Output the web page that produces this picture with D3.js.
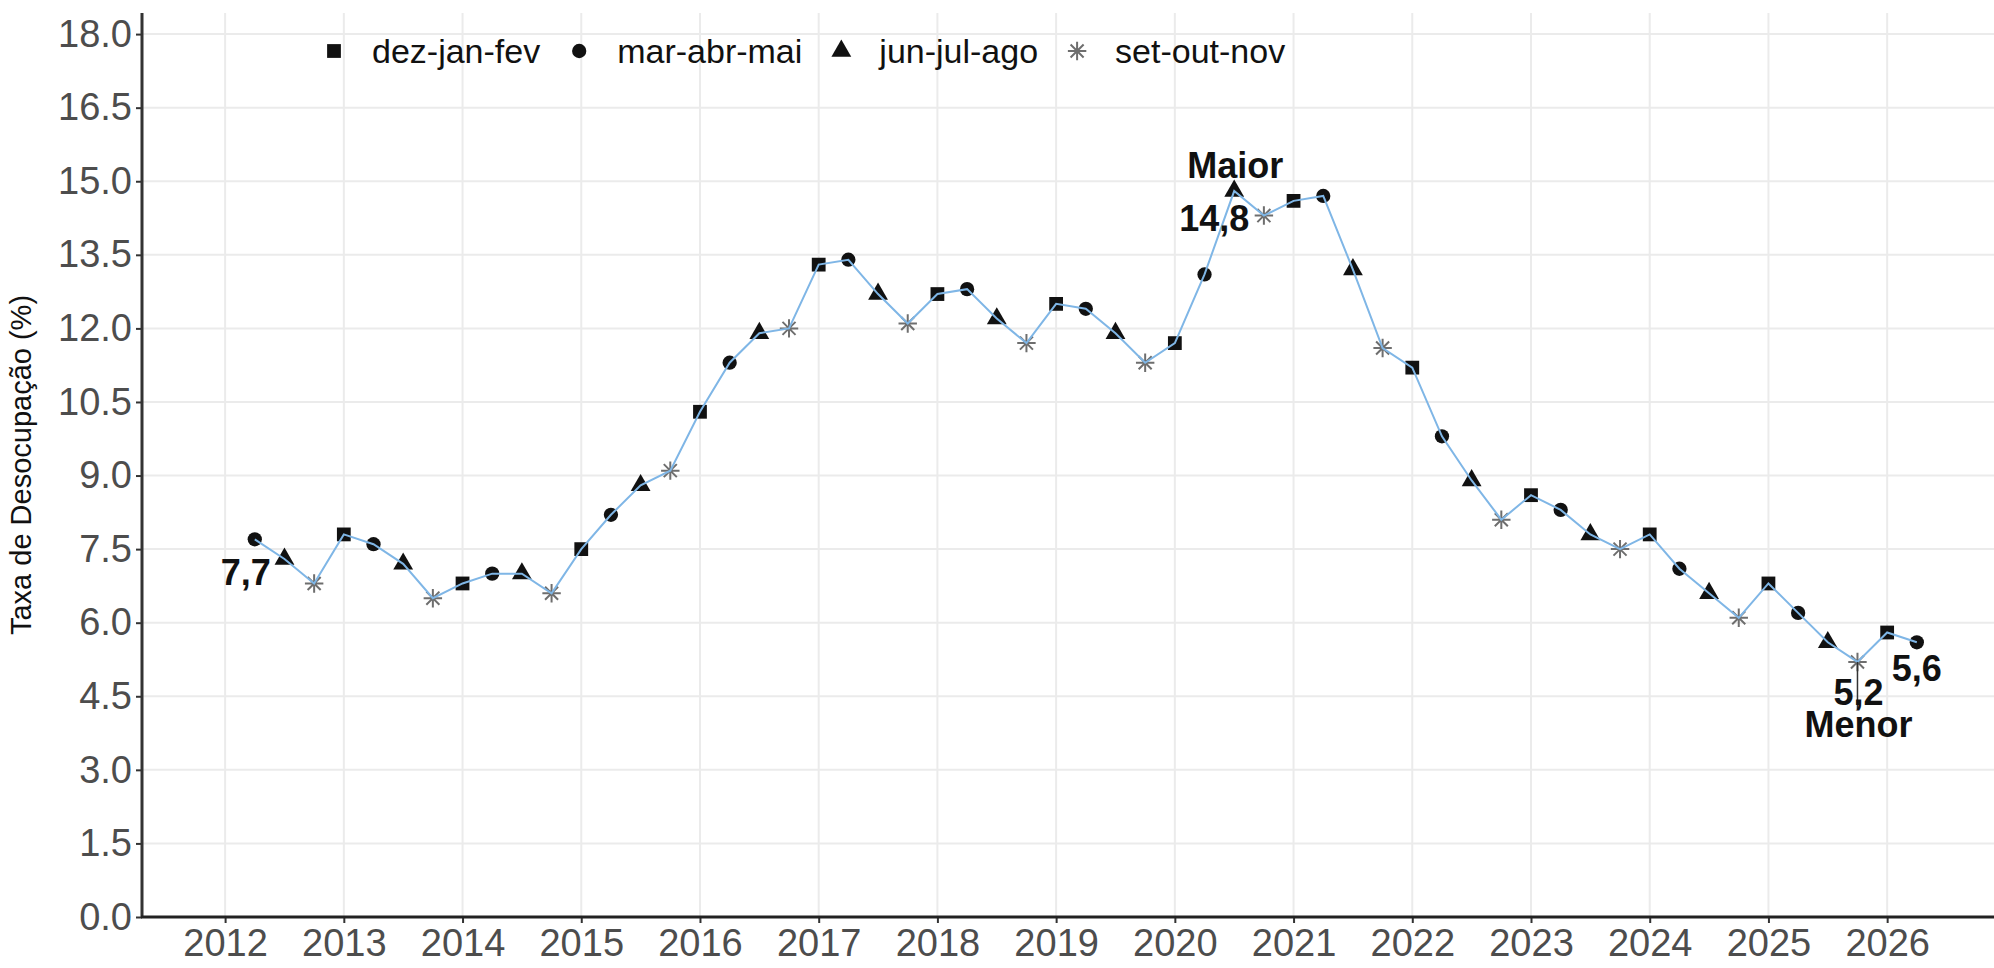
<!DOCTYPE html>
<html>
<head>
<meta charset="utf-8">
<title>Taxa de Desocupação</title>
<script src="https://cdnjs.cloudflare.com/ajax/libs/d3/7.8.5/d3.min.js"></script>
<style>
  body { margin: 0; background: #ffffff; }
  svg { display: block; font-family: "Liberation Sans", Arial, sans-serif; }
</style>
</head>
<body>
<div id="chart"></div>
<script>
// trimestres moveis (legenda)
var trimestres = ["dez-jan-fev", "mar-abr-mai", "jun-jul-ago", "set-out-nov"];

// posicao no tempo de cada ponto e o trimestre correspondente (0..3)
var tempo = [2012.25, 2012.5, 2012.75,
  2013, 2013.25, 2013.5, 2013.75,
  2014, 2014.25, 2014.5, 2014.75,
  2015, 2015.25, 2015.5, 2015.75,
  2016, 2016.25, 2016.5, 2016.75,
  2017, 2017.25, 2017.5, 2017.75,
  2018, 2018.25, 2018.5, 2018.75,
  2019, 2019.25, 2019.5, 2019.75,
  2020, 2020.25, 2020.5, 2020.75,
  2021, 2021.25, 2021.5, 2021.75,
  2022, 2022.25, 2022.5, 2022.75,
  2023, 2023.25, 2023.5, 2023.75,
  2024, 2024.25, 2024.5, 2024.75,
  2025, 2025.25, 2025.5, 2025.75,
  2026, 2026.25];
var trim = [1, 2, 3,
  0, 1, 2, 3,  0, 1, 2, 3,  0, 1, 2, 3,  0, 1, 2, 3,
  0, 1, 2, 3,  0, 1, 2, 3,  0, 1, 2, 3,  0, 1, 2, 3,
  0, 1, 2, 3,  0, 1, 2, 3,  0, 1, 2, 3,  0, 1, 2, 3,
  0, 1, 2, 3,
  0, 1];
// taxa de desocupacao (%)
var taxa = [7.7, 7.3, 6.8,
  7.8, 7.6, 7.2, 6.5,
  6.8, 7.0, 7.0, 6.6,
  7.5, 8.2, 8.8, 9.1,
  10.3, 11.3, 11.9, 12.0,
  13.3, 13.4, 12.7, 12.1,
  12.7, 12.8, 12.2, 11.7,
  12.5, 12.4, 11.9, 11.3,
  11.7, 13.1, 14.8, 14.3,
  14.6, 14.7, 13.2, 11.6,
  11.2, 9.8, 8.9, 8.1,
  8.6, 8.3, 7.8, 7.5,
  7.8, 7.1, 6.6, 6.1,
  6.8, 6.2, 5.6, 5.2,
  5.8, 5.6];

var anosTicks = [2012, 2013, 2014, 2015, 2016, 2017, 2018, 2019, 2020, 2021, 2022, 2023, 2024, 2025, 2026];
var yTicks = [0, 1.5, 3, 4.5, 6, 7.5, 9, 10.5, 12, 13.5, 15, 16.5, 18];

var W = 1994, H = 968;
var mLeft = 142, mBottom = 917, mTop = 13;

var svg = d3.select("#chart").append("svg")
  .attr("width", W)
  .attr("height", H);

var x = d3.scaleLinear().domain([2011.3, 2026.9]).range([mLeft, W]);
var y = d3.scaleLinear().domain([0, 18.43]).range([mBottom, mTop]);

var fmt = function(v) { return d3.format(".1f")(v).replace(".", ","); };

// grid
svg.append("g").selectAll("line")
  .data(yTicks.filter(function(d) { return d > 0; }))
  .enter().append("line")
  .attr("x1", mLeft).attr("x2", W)
  .attr("y1", function(d) { return y(d); })
  .attr("y2", function(d) { return y(d); })
  .attr("stroke", "#ebebeb").attr("stroke-width", 2);

svg.append("g").selectAll("line")
  .data(anosTicks)
  .enter().append("line")
  .attr("x1", function(d) { return x(d); })
  .attr("x2", function(d) { return x(d); })
  .attr("y1", mTop).attr("y2", mBottom)
  .attr("stroke", "#ebebeb").attr("stroke-width", 2);

// axes
var yAxis = svg.append("g")
  .attr("transform", "translate(" + mLeft + ",0)")
  .call(d3.axisLeft(y).tickValues(yTicks).tickFormat(d3.format(".1f")).tickSize(6).tickPadding(4));
var xAxis = svg.append("g")
  .attr("transform", "translate(0," + mBottom + ")")
  .call(d3.axisBottom(x).tickValues(anosTicks).tickFormat(d3.format("d")).tickSize(6).tickPadding(6));

[yAxis, xAxis].forEach(function(a) {
  a.select(".domain").remove();
  a.selectAll(".tick line").attr("stroke", "#333333").attr("stroke-width", 2);
  a.selectAll(".tick text").attr("fill", "#4d4d4d").style("font-size", "38px");
});
xAxis.selectAll(".tick text").attr("dy", "0.71em");

svg.append("line")
  .attr("x1", mLeft).attr("x2", mLeft).attr("y1", mTop).attr("y2", mBottom + 1)
  .attr("stroke", "#333333").attr("stroke-width", 3);
svg.append("line")
  .attr("x1", mLeft - 1).attr("x2", W).attr("y1", mBottom).attr("y2", mBottom)
  .attr("stroke", "#222222").attr("stroke-width", 3);

// axis title
svg.append("text")
  .attr("transform", "translate(31," + ((mTop + mBottom) / 2) + ") rotate(-90)")
  .attr("text-anchor", "middle")
  .attr("fill", "#111111")
  .style("font-size", "29px")
  .text("Taxa de Desocupação (%)");

// symbols
var asterisco = {
  draw: function(ctx, size) {
    var r = Math.sqrt(size) / 2, d = r * 0.7071;
    ctx.moveTo(-r, 0); ctx.lineTo(r, 0);
    ctx.moveTo(0, -r); ctx.lineTo(0, r);
    ctx.moveTo(-d, -d); ctx.lineTo(d, d);
    ctx.moveTo(-d, d); ctx.lineTo(d, -d);
  }
};
var tipos = [d3.symbolSquare, d3.symbolCircle, d3.symbolTriangle, asterisco];
var tamanhos = [190, 160, 170, 340];

function marcador(sel, k, escala) {
  var s = escala || 1;
  sel.attr("d", d3.symbol().type(tipos[k]).size(tamanhos[k] * s)());
  if (k === 3) {
    sel.attr("fill", "none").attr("stroke", "#6e6e6e").attr("stroke-width", 2);
  } else {
    sel.attr("fill", "#111111").attr("stroke", "none");
  }
}

var pontos = tempo.map(function(t, i) { return { t: t, v: taxa[i], k: trim[i] }; });

svg.append("g").selectAll("path")
  .data(pontos)
  .enter().append("path")
  .attr("transform", function(d) { return "translate(" + x(d.t) + "," + y(d.v) + ")"; })
  .each(function(d) { marcador(d3.select(this), d.k); });

// line over the markers
svg.append("path")
  .datum(pontos)
  .attr("fill", "none")
  .attr("stroke", "#7fb6e6")
  .attr("stroke-width", 2)
  .attr("d", d3.line().x(function(d) { return x(d.t); }).y(function(d) { return y(d.v); }));

// annotations
var iMax = d3.maxIndex(taxa), iMin = d3.minIndex(taxa), iUlt = taxa.length - 1;
var pMax = pontos[iMax], pMin = pontos[iMin], pIni = pontos[0], pUlt = pontos[iUlt];

svg.append("line")
  .attr("x1", x(pMin.t)).attr("x2", x(pMin.t))
  .attr("y1", y(pMin.v)).attr("y2", y(pMin.v) + 47)
  .attr("stroke", "#333333").attr("stroke-width", 1.5);

var notas = [
  { p: pIni, dx: -9, dy: 46, txt: fmt(pIni.v) },
  { p: pMax, dx: 1, dy: -13, txt: "Maior" },
  { p: pMax, dx: -20, dy: 40, txt: fmt(pMax.v) },
  { p: pMin, dx: 1, dy: 43, txt: fmt(pMin.v) },
  { p: pMin, dx: 1, dy: 75, txt: "Menor" },
  { p: pUlt, dx: 0, dy: 39, txt: fmt(pUlt.v) }
];
svg.append("g").selectAll("text")
  .data(notas)
  .enter().append("text")
  .attr("x", function(d) { return x(d.p.t) + d.dx; })
  .attr("y", function(d) { return y(d.p.v) + d.dy; })
  .attr("text-anchor", "middle")
  .attr("fill", "#111111")
  .style("font-size", "36px")
  .style("font-weight", "bold")
  .text(function(d) { return d.txt; });

// legend
var leg = svg.append("g");
var lx = 334, ly = 51;
trimestres.forEach(function(nome, k) {
  leg.append("path")
    .attr("transform", "translate(" + lx + "," + ly + ")")
    .call(marcador, k, 1);
  var t = leg.append("text")
    .attr("x", lx + 38).attr("y", ly + 12)
    .attr("fill", "#111111")
    .style("font-size", "34px")
    .text(nome);
  lx = lx + 38 + t.node().getComputedTextLength() + 39;
});
</script>
</body>
</html>
